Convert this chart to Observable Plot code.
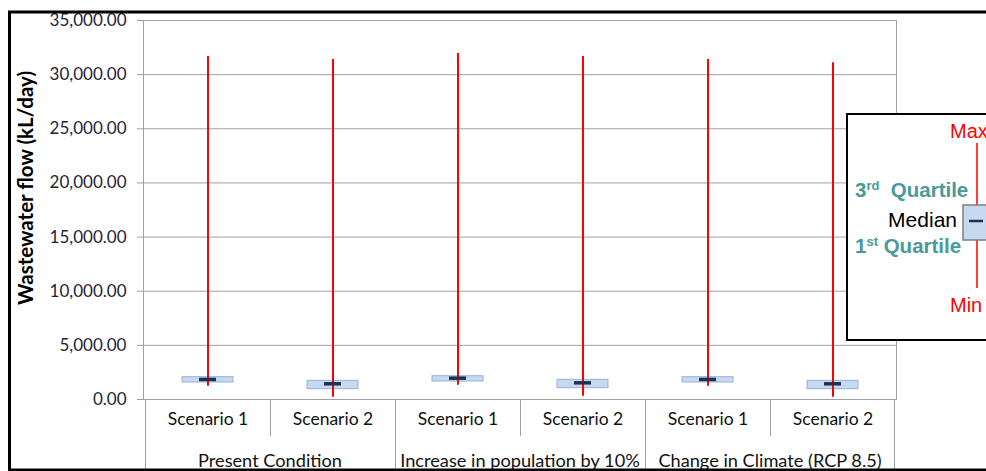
<!DOCTYPE html>
<html>
<head>
<meta charset="utf-8">
<script src="https://cdn.jsdelivr.net/npm/d3@7"></script>
<script src="https://cdn.jsdelivr.net/npm/@observablehq/plot@0.6"></script>
<style>
  html, body { margin: 0; padding: 0; background: #fff; }
  #chart svg { display: block; }
</style>
</head>
<body>
<div id="chart"></div>
<script>
const groups = ["Present Condition", "Increase in population by 10%", "Change in Climate (RCP 8.5)"];
const scenarios = ["Scenario 1", "Scenario 2"];
// one value per (group, scenario), in order
const maxVals    = [31670, 31400, 31950, 31670, 31400, 31100];
const q3Vals     = [2060, 1725, 2150, 1820, 2060, 1725];
const medianVals = [1850, 1450, 1970, 1540, 1850, 1450];
const q1Vals     = [1570, 950, 1660, 1045, 1570, 950];
const minVals    = [1230, 210, 1320, 305, 1230, 210];
const yTicks = [0, 5000, 10000, 15000, 20000, 25000, 30000, 35000];
const yLabel = "Wastewater flow (kL/day)";

const keyOf = (g, s) => g + " | " + s;
const rows = [];
groups.forEach((g, gi) => scenarios.forEach((s, si) => {
  const i = gi * scenarios.length + si;
  rows.push({group: g, scenario: s, key: keyOf(g, s),
    max: maxVals[i], q3: q3Vals[i], median: medianVals[i], q1: q1Vals[i], min: minVals[i]});
}));
const keys = rows.map(d => d.key);

const W = 986, H = 471;
const grid = "#a0a0a0";

const chart = Plot.plot({
  width: W, height: H,
  marginLeft: 143, marginRight: 90, marginTop: 20, marginBottom: 72,
  style: {fontFamily: "Lato, 'Open Sans', sans-serif", fontSize: "17px", background: "transparent", overflow: "visible"},
  x: {type: "band", domain: keys, padding: 0, axis: null},
  y: {domain: [0, 35000], axis: null},
  marks: [
    Plot.gridY(yTicks, {stroke: grid, strokeOpacity: 1}),
    Plot.axisY({ticks: yTicks, tickFormat: d3.format(",.2f"), tickSize: 6, tickPadding: 11,
      stroke: grid, fill: "#1f2438", fontSize: 17, label: null}),
    Plot.frame({stroke: grid}),
    Plot.barY(rows, {x: "key", y1: "q1", y2: "q3", fill: "#c6d9f1", stroke: "#95b3d7", insetLeft: 37, insetRight: 37}),
    Plot.ruleX(rows, {x: "key", y1: "min", y2: "max", stroke: "#ff0000", strokeWidth: 2}),
    Plot.tickY(rows, {x: "key", y: "median", stroke: "#1f3052", strokeWidth: 3.5, insetLeft: 54, insetRight: 54}),
    Plot.text(rows, {x: "key", text: "scenario", frameAnchor: "bottom", dy: 25, fill: "#111", fontSize: 17.5})
  ]
});
document.getElementById("chart").appendChild(chart);

const svg = d3.select(chart);
const xs = chart.scale("x"), ys = chart.scale("y");
const bw = xs.bandwidth;
const y0 = ys.apply(0);

// category separators and group labels
const sep = svg.append("g").attr("stroke", grid).attr("stroke-width", 1);
groups.forEach((g, gi) => {
  const x0 = xs.apply(keyOf(g, scenarios[0]));
  const xm = xs.apply(keyOf(g, scenarios[1]));
  sep.append("line").attr("x1", x0 + 0.5).attr("x2", x0 + 0.5).attr("y1", y0).attr("y2", H);
  sep.append("line").attr("x1", xm + 0.5).attr("x2", xm + 0.5).attr("y1", y0).attr("y2", y0 + 37);
  if (gi === groups.length - 1) {
    const xe = xm + bw;
    sep.append("line").attr("x1", xe - 0.5).attr("x2", xe - 0.5).attr("y1", y0).attr("y2", H);
  }
  svg.append("text").attr("x", x0 + bw).attr("y", y0 + 62).attr("dy", "0.35em")
    .attr("text-anchor", "middle").attr("font-size", 18.2).attr("fill", "#111").text(g);
});

// y axis title
svg.append("text")
  .attr("transform", "translate(33,188) rotate(-90)")
  .attr("text-anchor", "middle")
  .attr("font-weight", "bold").attr("font-size", 20.5).attr("fill", "#000")
  .text(yLabel);

// legend inset
const lg = svg.append("g").attr("font-family", "'Liberation Sans', Arial, sans-serif").attr("text-anchor", "start");
lg.append("rect").attr("x", 847).attr("y", 114).attr("width", 200).attr("height", 226)
  .attr("fill", "#fff").attr("stroke", "#000").attr("stroke-width", 2);
lg.append("line").attr("x1", 977).attr("x2", 977).attr("y1", 143).attr("y2", 288)
  .attr("stroke", "#ff0000").attr("stroke-width", 1.5);
lg.append("rect").attr("x", 963).attr("y", 205).attr("width", 40).attr("height", 35)
  .attr("fill", "#c6d9f1").attr("stroke", "#7f7f7f").attr("stroke-width", 1.5);
lg.append("line").attr("x1", 969).attr("x2", 983).attr("y1", 221).attr("y2", 221)
  .attr("stroke", "#1f3052").attr("stroke-width", 2.5);
lg.append("text").attr("x", 950).attr("y", 138).attr("font-size", 20).attr("fill", "#ff0000").text("Max");
lg.append("text").attr("x", 950).attr("y", 312).attr("font-size", 20).attr("fill", "#ff0000").text("Min");
lg.append("text").attr("x", 957).attr("y", 227).attr("font-size", 21).attr("fill", "#000")
  .attr("text-anchor", "end").text("Median");
const teal = "#4a9a9a";
const t3 = lg.append("text").attr("x", 855).attr("y", 197).attr("font-size", 20.5)
  .attr("font-weight", "bold").attr("fill", teal);
t3.append("tspan").text("3");
t3.append("tspan").attr("dy", -7).attr("font-size", 13).text("rd");
t3.append("tspan").attr("dy", 7).text("\u00a0 Quartile");
const t1 = lg.append("text").attr("x", 855).attr("y", 253).attr("font-size", 20.5)
  .attr("font-weight", "bold").attr("fill", teal);
t1.append("tspan").text("1");
t1.append("tspan").attr("dy", -7).attr("font-size", 13).text("st");
t1.append("tspan").attr("dy", 7).text(" Quartile");

// outer border
svg.append("rect").attr("x", 9.5).attr("y", 12).attr("width", 1000).attr("height", 458)
  .attr("fill", "none").attr("stroke", "#000").attr("stroke-width", 3);
</script>
</body>
</html>
